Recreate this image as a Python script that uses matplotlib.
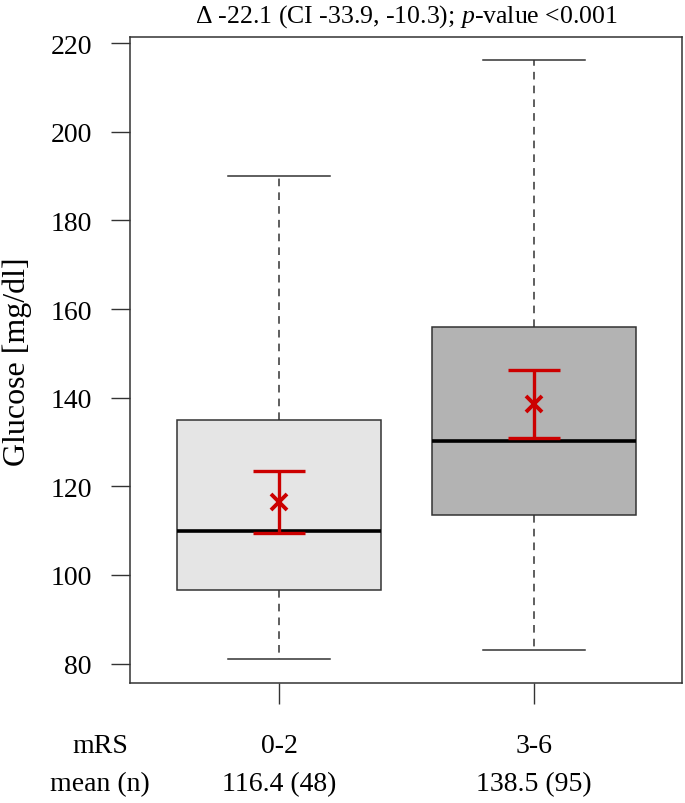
import matplotlib
matplotlib.use('Agg')
import matplotlib.pyplot as plt

# --- data ---
groups = ['0-2', '3-6']
n_obs = [48, 95]
means = [116.4, 138.5]
ci_low = [109.5, 131.0]
ci_high = [123.5, 146.3]
whisker_low = [81, 83]
q1 = [96.5, 113.5]
medians = [110, 130.2]
q3 = [135, 156]
whisker_high = [190, 216.2]
box_colors = ['#e5e5e5', '#b3b3b3']
title = r'$\Delta$ -22.1 (CI -33.9, -10.3); $\it{p}$-value <0.001'

plt.rcParams['font.family'] = ['Liberation Serif', 'DejaVu Serif']
plt.rcParams['mathtext.fontset'] = 'custom'
plt.rcParams['mathtext.rm'] = 'Liberation Serif'
plt.rcParams['mathtext.it'] = 'Liberation Serif:italic'

fig = plt.figure(figsize=(6.85, 8.04), dpi=100)
ax = fig.add_axes([130 / 685, 1 - 684 / 804, 552 / 685, (684 - 38) / 804])

pos = [1, 2]
stats = []
for i in range(len(groups)):
    stats.append({'whislo': whisker_low[i], 'q1': q1[i], 'med': medians[i],
                  'q3': q3[i], 'whishi': whisker_high[i], 'fliers': []})

edge = '#333333'
bp = ax.bxp(stats, positions=pos, widths=0.8, patch_artist=True,
            showfliers=False,
            boxprops=dict(edgecolor=edge, linewidth=1.1),
            medianprops=dict(color='black', linewidth=2.6),
            whiskerprops=dict(color=edge, linewidth=1.1, linestyle=(0, (5, 4))),
            capprops=dict(color=edge, linewidth=1.1),
            capwidths=0.4)
for patch, c in zip(bp['boxes'], box_colors):
    patch.set_facecolor(c)

red = '#cc0000'
for i, p in enumerate(pos):
    ax.errorbar(p, means[i], yerr=[[means[i] - ci_low[i]], [ci_high[i] - means[i]]],
                fmt='none', ecolor=red, elinewidth=2.4, capsize=19, capthick=2.4, zorder=5)
    ax.plot(p, means[i], marker='x', color=red, markersize=12, mew=2.8, zorder=6)

ax.set_xlim(0.415, 2.58)
ax.set_ylim(75.6, 221.4)
ax.set_yticks(range(80, 221, 20))
ax.set_xticks(pos)
ax.set_xticklabels([''] * len(pos))
ax.tick_params(axis='y', labelsize=20, length=13.5, width=1, color=edge, pad=14)
ax.tick_params(axis='x', length=15, width=1, color=edge)
for s in ax.spines.values():
    s.set_color(edge)
    s.set_linewidth(1.1)

fig.text(17 / 685, 1 - 362 / 804, 'Glucose [mg/dl]', rotation=90,
         ha='center', va='center', fontsize=23)
fig.text(406 / 685, 1 - 17 / 804, title, ha='center', va='center', fontsize=18.5)

# table below axis
ax.text(-0.054, -0.097, 'mRS', transform=ax.transAxes, ha='center', va='center', fontsize=20)
ax.text(-0.054, -0.155, 'mean (n)', transform=ax.transAxes, ha='center', va='center', fontsize=20)
for i, p in enumerate(pos):
    ax.text(p, -0.097, groups[i], transform=ax.get_xaxis_transform(),
            ha='center', va='center', fontsize=20)
    ax.text(p, -0.155, f'{means[i]:.1f} ({n_obs[i]})', transform=ax.get_xaxis_transform(),
            ha='center', va='center', fontsize=20)

fig.savefig('out.png', dpi=100)
